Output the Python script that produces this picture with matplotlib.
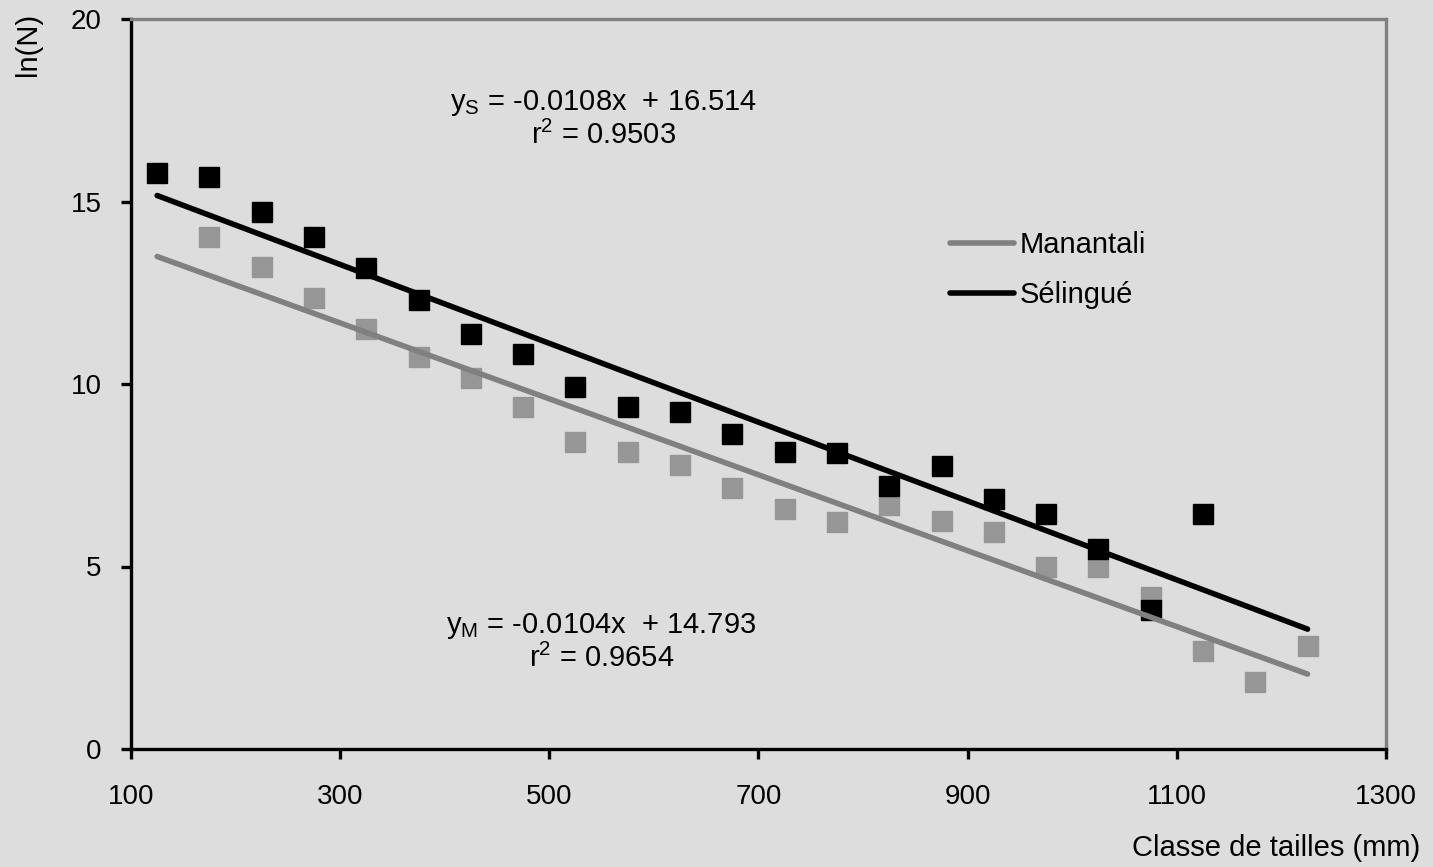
import numpy as np
import matplotlib
matplotlib.use("Agg")
import matplotlib.pyplot as plt

plt.rcParams["font.family"] = ["Liberation Sans", "DejaVu Sans"]
plt.rcParams["mathtext.fontset"] = "custom"
plt.rcParams["mathtext.rm"] = "Liberation Sans"
plt.rcParams["mathtext.it"] = "Liberation Sans"

# size classes (mm)
classes = np.arange(125, 1226, 50)

# ln(N) per size class
selingue = [15.78, 15.67, 14.71, 14.03, 13.18, 12.30, 11.37, 10.82, 9.92, 9.37,
            9.23, 8.63, 8.14, 8.11, 7.21, 7.75, 6.85, 6.44, 5.48, 3.81,
            6.44, np.nan, np.nan]
manantali = [np.nan, 14.03, 13.20, 12.36, 11.50, 10.74, 10.16, 9.37, 8.41, 8.14,
             7.78, 7.15, 6.58, 6.22, 6.68, 6.25, 5.95, 4.99, 4.99, 4.16,
             2.68, 1.84, 2.82]

# fitted trend lines (slope, intercept) and r2
fit_s = (-0.0108, 16.514)
fit_m = (-0.0104, 14.793)
r2_s = 0.9503
r2_m = 0.9654

bg = "#dddddd"
gray_pt = "#969696"
gray_ln = "#808080"

fig = plt.figure(figsize=(14.33, 8.67), dpi=100, facecolor=bg)
ax = fig.add_axes([131 / 1433, 1 - 749 / 867, (1386 - 131) / 1433, (749 - 19) / 867])
ax.set_facecolor(bg)

ax.plot(classes, manantali, ls="none", marker="s", ms=14, color=gray_pt, zorder=2)
ax.plot(classes, selingue, ls="none", marker="s", ms=14, color="black", zorder=3)

xfit = np.array([classes[0], classes[-1]])
ax.plot(xfit, np.polyval(fit_m, xfit), color=gray_ln, lw=4, solid_capstyle="round",
        zorder=4, label="Manantali")
ax.plot(xfit, np.polyval(fit_s, xfit), color="black", lw=4, solid_capstyle="round",
        zorder=4, label="Sélingué")

ax.set_xlim(100, 1300)
ax.set_ylim(0, 20)
ax.set_xticks([100, 300, 500, 700, 900, 1100, 1300])
ax.set_yticks([0, 5, 10, 15, 20])

for s in ["left", "bottom"]:
    ax.spines[s].set_color("black")
    ax.spines[s].set_linewidth(2.4)
for s in ["top", "right"]:
    ax.spines[s].set_color(gray_ln)
    ax.spines[s].set_linewidth(2.4)
ax.tick_params(axis="both", direction="out", length=7, width=2.4, color="black",
               labelsize=20)
ax.tick_params(axis="x", pad=18)
ax.tick_params(axis="y", pad=14)

eq_fs = 21
ax.text(552, 17.7, r"$\mathregular{y_S}$ = -0.0108x  + 16.514", fontsize=eq_fs,
        ha="center", va="center")
ax.text(552, 16.82, r"r$\mathregular{^2}$ = " + f"{r2_s:.4f}", fontsize=eq_fs,
        ha="center", va="center")
ax.text(550, 3.37, r"$\mathregular{y_M}$ = -0.0104x  + 14.793", fontsize=eq_fs,
        ha="center", va="center")
ax.text(550, 2.49, r"r$\mathregular{^2}$ = " + f"{r2_m:.4f}", fontsize=eq_fs,
        ha="center", va="center")

ax.legend(loc="upper left", bbox_to_anchor=(950 / 1433, 1 - 231 / 867),
          bbox_transform=fig.transFigure, frameon=False, fontsize=21,
          handlelength=2.2, handletextpad=0.2, labelspacing=0.75,
          borderpad=0, borderaxespad=0)

fig.text(28 / 1433, 1 - 44 / 867, "ln(N)", rotation=90, fontsize=21,
         ha="center", va="center")
fig.text(1420 / 1433, 1 - 848 / 867, "Classe de tailles (mm)", fontsize=21,
         ha="right", va="center")

fig.savefig("out.png", dpi=100, facecolor=bg)
